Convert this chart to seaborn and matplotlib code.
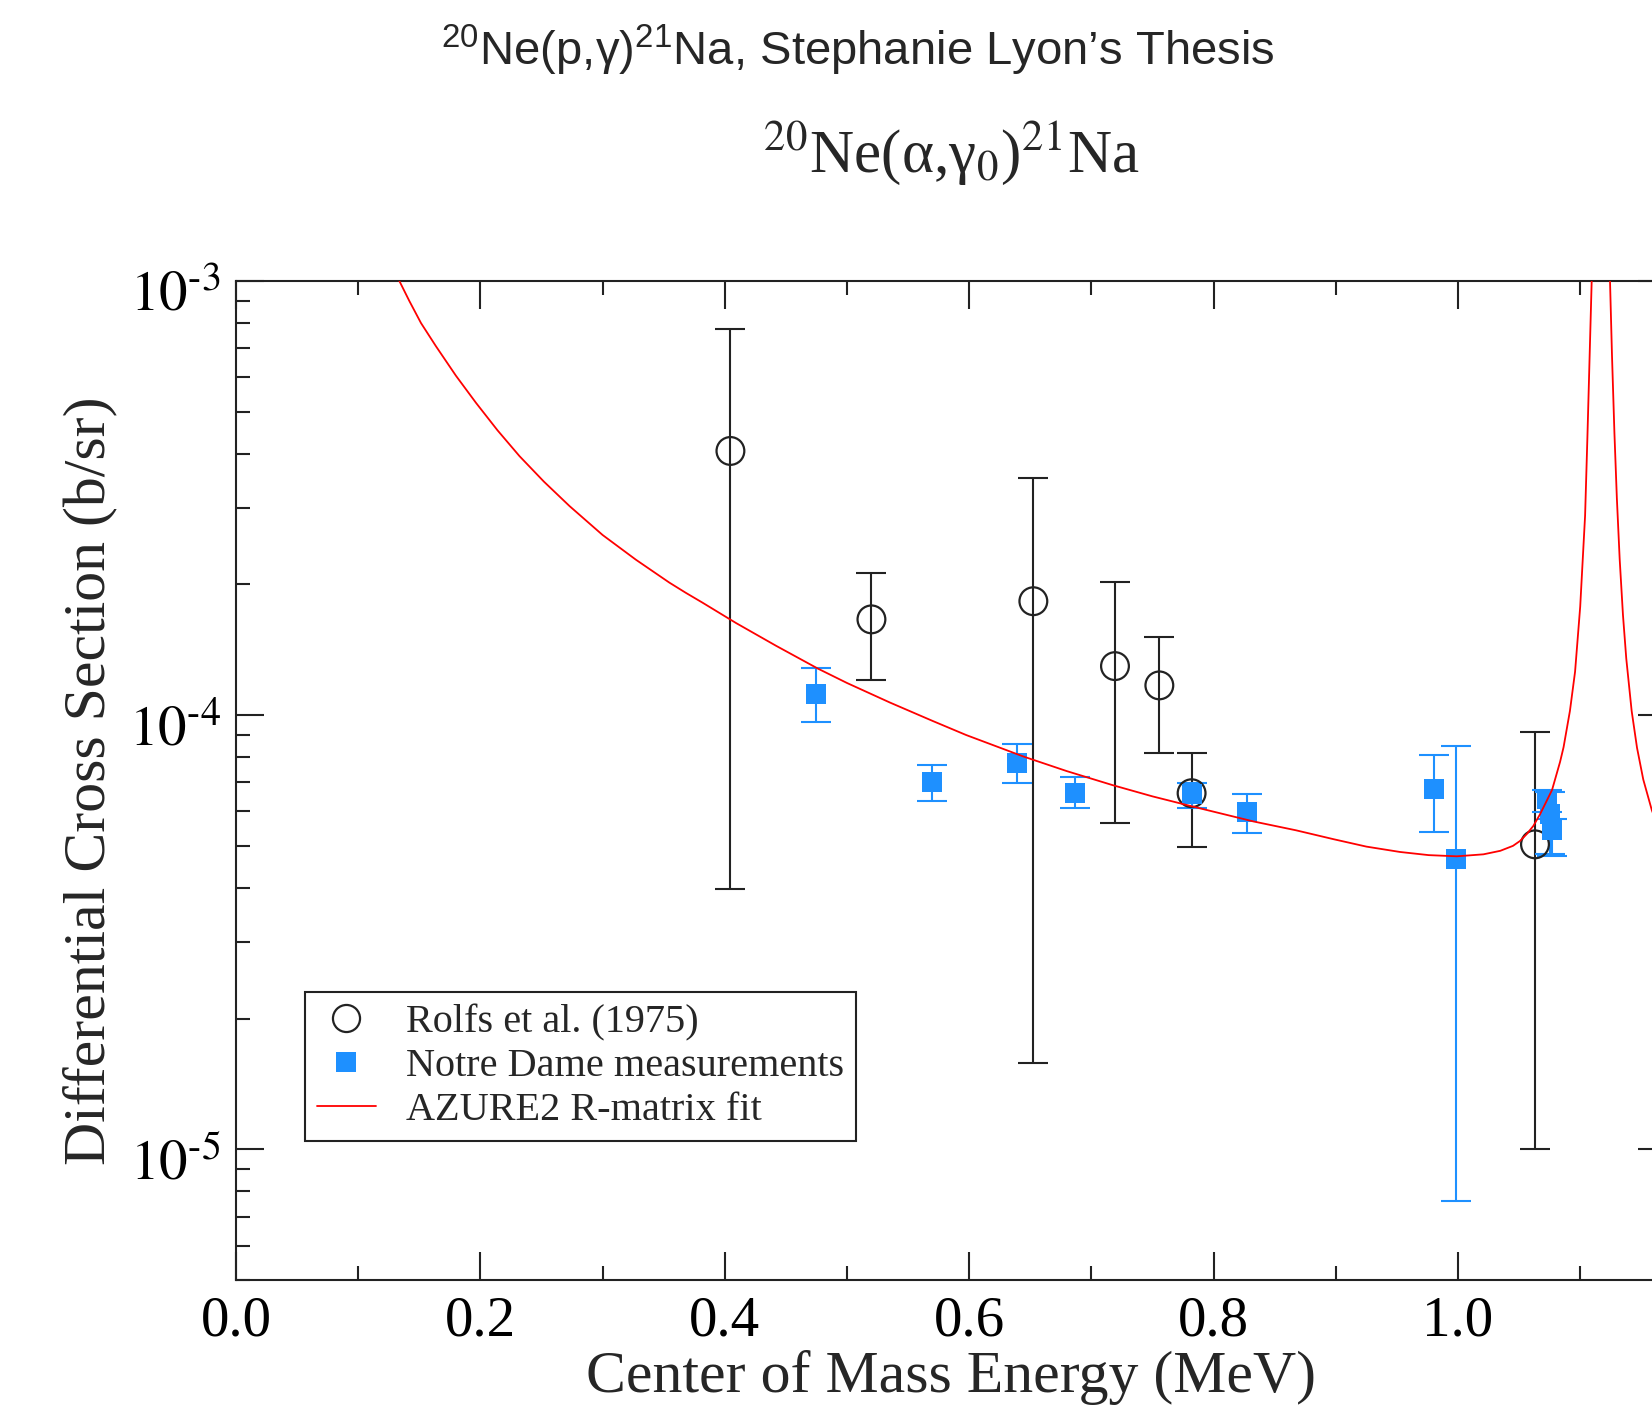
import numpy as np
import matplotlib
matplotlib.use("Agg")
import matplotlib.pyplot as plt
import matplotlib.transforms as mtransforms
from matplotlib.lines import Line2D
from matplotlib.ticker import MultipleLocator, FixedLocator, FuncFormatter, NullFormatter
import seaborn as sns

# ---------------- data ----------------
# Rolfs et al. (1975)
rolfs_x = [0.4046, 0.520, 0.6525, 0.7193, 0.7556, 0.782, 1.063]
rolfs_y = [4.06e-4, 1.662e-4, 1.83e-4, 1.297e-4, 1.171e-4, 6.61e-5, 5.04e-5]
rolfs_lo = [3.97e-5, 1.202e-4, 1.578e-5, 5.64e-5, 8.18e-5, 4.96e-5, 1.0e-5]
rolfs_hi = [7.75e-4, 2.13e-4, 3.51e-4, 2.03e-4, 1.517e-4, 8.18e-5, 9.16e-5]

# Notre Dame measurements
nd_x = [0.475, 0.5698, 0.6394, 0.6863, 0.782, 0.8275, 0.9807, 0.9984, 1.073, 1.075, 1.077]
nd_y = [1.12e-4, 7.01e-5, 7.76e-5, 6.63e-5, 6.57e-5, 5.97e-5, 6.77e-5, 4.66e-5, 6.40e-5, 5.91e-5, 5.43e-5]
nd_lo = [9.66e-5, 6.34e-5, 6.96e-5, 6.12e-5, 6.12e-5, 5.34e-5, 5.39e-5, 7.6e-6, 5.97e-5, 4.80e-5, 4.73e-5]
nd_hi = [1.281e-4, 7.67e-5, 8.57e-5, 7.20e-5, 6.96e-5, 6.57e-5, 8.11e-5, 8.48e-5, 6.73e-5, 6.64e-5, 5.76e-5]

# AZURE2 R-matrix fit
fit_x = [0.1337, 0.1418, 0.1514, 0.1637, 0.1800, 0.1964, 0.2140, 0.2320, 0.2520, 0.2730,
         0.3000, 0.3273, 0.3546, 0.3680, 0.3819, 0.4092, 0.4419, 0.4762, 0.5000, 0.5352,
         0.5700, 0.5975, 0.6444, 0.6800, 0.7173, 0.7500, 0.7889, 0.8327, 0.8674, 0.8981,
         0.9250, 0.9526, 0.9760, 0.9990, 1.0208, 1.0346, 1.0450, 1.0507, 1.0562, 1.0617,
         1.0671, 1.0726, 1.0770, 1.0835, 1.0864, 1.0916, 1.0958, 1.1000, 1.1040, 1.1059,
         1.1094, 1.1165, 1.1244, 1.1260, 1.1280, 1.1300, 1.1323, 1.1350, 1.1377, 1.1421,
         1.1465, 1.1516, 1.1587, 1.1700]
fit_y = [1.0e-3, 9.0e-4, 8.0e-4, 7.07e-4, 6.05e-4, 5.24e-4, 4.53e-4, 3.95e-4, 3.45e-4, 3.03e-4,
         2.60e-4, 2.28e-4, 2.02e-4, 1.914e-4, 1.815e-4, 1.63e-4, 1.445e-4, 1.28e-4, 1.186e-4, 1.069e-4,
         9.7e-5, 9.0e-5, 8.03e-5, 7.43e-5, 6.90e-5, 6.50e-5, 6.10e-5, 5.69e-5, 5.43e-5, 5.18e-5,
         4.98e-5, 4.84e-5, 4.76e-5, 4.73e-5, 4.78e-5, 4.87e-5, 5.0e-5, 5.13e-5, 5.32e-5, 5.56e-5,
         5.91e-5, 6.35e-5, 6.73e-5, 7.80e-5, 8.44e-5, 1.023e-4, 1.259e-4, 1.778e-4, 2.88e-4, 4.37e-4,
         1.0e-3, 5.0e-3, 1.0e-3, 6.76e-4, 4.47e-4, 3.16e-4, 2.29e-4, 1.70e-4, 1.35e-4, 1.023e-4,
         8.41e-5, 7.11e-5, 6.03e-5, 5.01e-5]

x_ticks = [0.0, 0.2, 0.4, 0.6, 0.8, 1.0]
x_tick_labels = ["0.0", "0.2", "0.4", "0.6", "0.8", "1.0"]
y_ticks = [1e-5, 1e-4, 1e-3]
legend_labels = ["Rolfs et al. (1975)", "Notre Dame measurements", "AZURE2 R-matrix fit"]

title_top = r"$^{20}$Ne(p,γ)$^{21}$Na, Stephanie Lyon’s Thesis"
title_plot = r"$^{20}$Ne(α,γ$_{0}$)$^{21}$Na"
x_label = "Center of Mass Energy (MeV)"
y_label = "Differential Cross Section (b/sr)"

# ---------------- style ----------------
sns.set_theme(style="ticks")
plt.rcParams.update({
    "font.family": ["Liberation Serif", "DejaVu Serif"],
    "mathtext.fontset": "stix",
    "mathtext.rm": "Liberation Sans",
    "mathtext.it": "Liberation Sans:italic",
    "mathtext.bf": "Liberation Sans:bold",
    "axes.unicode_minus": False,
    "axes.edgecolor": "#222222",
    "axes.linewidth": 1.5,
    "figure.facecolor": "white",
    "axes.facecolor": "white",
})

BLUE = "#1E90FF"
DARK = "#222222"

W, H = 1652, 1409
fig = plt.figure(figsize=(W / 100, H / 100), dpi=100)

x_min, x_max = 0.0, 1.17
px_per_unit = 1222.0
left_px, top_px, bottom_px = 236.0, 281.0, 1280.0
ax = fig.add_axes([left_px / W, 1 - bottom_px / H,
                   (x_max - x_min) * px_per_unit / W, (bottom_px - top_px) / H])

# error bars
r_x = np.array(rolfs_x); r_y = np.array(rolfs_y)
ax.errorbar(r_x, r_y, yerr=[r_y - np.array(rolfs_lo), np.array(rolfs_hi) - r_y],
            fmt="none", ecolor=DARK, elinewidth=1.5, capsize=10.5, capthick=1.5, zorder=2)
n_x = np.array(nd_x); n_y = np.array(nd_y)
ax.errorbar(n_x, n_y, yerr=[n_y - np.array(nd_lo), np.array(nd_hi) - n_y],
            fmt="none", ecolor=BLUE, elinewidth=1.5, capsize=10.5, capthick=1.5, zorder=3)

# markers
sns.scatterplot(x=rolfs_x, y=rolfs_y, ax=ax, marker="o", s=400,
                facecolors="none", edgecolors=DARK, linewidth=1.6, zorder=4, legend=False)
sns.scatterplot(x=nd_x, y=nd_y, ax=ax, marker="s", s=205,
                color=BLUE, edgecolor=BLUE, linewidth=0, zorder=5, legend=False)

# fit line
sns.lineplot(x=fit_x, y=fit_y, ax=ax, color="red", linewidth=1.3, sort=False,
             estimator=None, zorder=6, legend=False)

ax.set_yscale("log")
ax.set_xlim(x_min, x_max)
ax.set_ylim(5e-6, 1e-3)

ax.xaxis.set_major_locator(FixedLocator(x_ticks))
ax.set_xticklabels(x_tick_labels)
ax.xaxis.set_minor_locator(MultipleLocator(0.1))
ax.yaxis.set_major_locator(FixedLocator(y_ticks))
ax.yaxis.set_major_formatter(
    FuncFormatter(lambda v, p: "$10^{\u2010%d}$" % abs(int(round(np.log10(v))))))
minor_y = [m * 10.0 ** e for e in (-6, -5, -4) for m in range(2, 10)]
ax.yaxis.set_minor_locator(FixedLocator(minor_y))
ax.yaxis.set_minor_formatter(NullFormatter())

ax.tick_params(which="both", direction="in", top=True, right=True,
               color=DARK, width=1.5, labelcolor="black")
ax.tick_params(which="major", length=20, labelsize=41)
ax.tick_params(axis="x", which="major", pad=11)
ax.tick_params(axis="y", which="major", pad=11)
ax.tick_params(which="minor", length=10)
for sp in ax.spines.values():
    sp.set_visible(True)
    sp.set_color(DARK)
    sp.set_linewidth(1.5)

ax.set_xlabel(x_label, fontsize=43, labelpad=2)
ax.set_ylabel(y_label, fontsize=43, labelpad=8)

# shift the y tick labels slightly down (as in the reference)
offset = mtransforms.ScaledTranslation(0, -0.09, fig.dpi_scale_trans)
for t in ax.yaxis.get_major_ticks(len(y_ticks)):
    t.label1.set_transform(t.label1.get_transform() + offset)

# legend
h1 = Line2D([], [], ls="none", marker="o", ms=19.5, mfc="none", mec=DARK, mew=1.6)
h2 = Line2D([], [], ls="none", marker="s", ms=14, mfc=BLUE, mec=BLUE, mew=0)
h3 = Line2D([], [], color="red", lw=1.3)
leg = ax.legend([h1, h2, h3], legend_labels, loc="lower left",
                bbox_to_anchor=(0.0483, 0.139), borderaxespad=0, fontsize=29,
                frameon=True, fancybox=False, framealpha=1, edgecolor=DARK,
                handlelength=1.45, handletextpad=0.75, labelspacing=0.17,
                borderpad=0.3)
leg.get_frame().set_linewidth(1.5)
leg.set_zorder(10)

# titles
fig.text(858 / W, 1 - 65 / H, title_top, ha="center", va="baseline",
         fontsize=34, fontfamily=["Liberation Sans", "DejaVu Sans"], math_fontfamily="custom")
fig.text(951 / W, 1 - 172 / H, title_plot, ha="center", va="baseline",
         fontsize=44, fontfamily=["Liberation Serif", "DejaVu Serif"], math_fontfamily="stix")

fig.savefig("out.png", dpi=100)
